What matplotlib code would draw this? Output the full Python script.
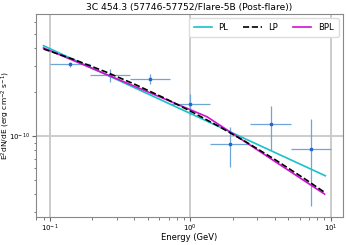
import matplotlib
matplotlib.use("Agg")
import matplotlib.pyplot as plt
import numpy as np

# Data points (flux in erg cm^-2 s^-1)
e_center = [0.139, 0.268, 0.518, 1.0, 1.93, 3.73, 7.20]
e_low = [0.100, 0.193, 0.373, 0.720, 1.39, 2.68, 5.18]
e_high = [0.193, 0.373, 0.720, 1.39, 2.68, 5.18, 10.0]
flux = [3.11e-10, 2.62e-10, 2.47e-10, 1.67e-10, 0.88e-10, 1.20e-10, 0.82e-10]
flux_err = [0.12e-10, 0.28e-10, 0.20e-10, 0.27e-10, 0.27e-10, 0.40e-10, 0.49e-10]

# Model curves
pl_e = [0.0899, 9.14]
pl_f = [4.155e-10, 5.35e-11]
lp_e = [0.09, 0.15, 0.25, 0.4, 0.65, 1.0, 1.6, 2.5, 4.0, 6.5, 9.0]
lp_f = [3.946e-10, 3.327e-10, 2.748e-10, 2.266e-10, 1.824e-10, 1.483e-10,
        1.163e-10, 9.10e-11, 6.91e-11, 5.11e-11, 4.13e-11]
bpl_e = [0.0899, 1.315, 9.03]
bpl_f = [4.01e-10, 1.355e-10, 4.01e-11]

fig = plt.figure(figsize=(3.46, 2.45), dpi=100)
ax = fig.add_axes([0.104, 0.114, 0.887, 0.829])

xerr = [np.array(e_center) - np.array(e_low), np.array(e_high) - np.array(e_center)]
ax.errorbar(e_center, flux, xerr=xerr, yerr=flux_err, fmt='s', ms=1.8,
            color='#2a62d0', ecolor='#6ea6d8', elinewidth=0.9, capsize=0, zorder=3)

ax.plot(pl_e, pl_f, color='#17c3c8', lw=1.2, label='PL', zorder=4)
ax.plot(lp_e, lp_f, color='black', lw=1.2, ls='--', label='LP', zorder=5)
ax.plot(bpl_e, bpl_f, color='#d010d0', lw=1.2, label='BPL', zorder=4)

ax.set_xscale('log')
ax.set_yscale('log')
ax.set_xlim(0.0795, 12.2)
ax.set_ylim(2.79e-11, 6.85e-10)

ax.grid(True, which='major', color='#c8c8c8', lw=1.3)
ax.set_axisbelow(True)
for s in ax.spines.values():
    s.set_color('#888888')
ax.tick_params(axis='both', which='both', labelsize=5.0, colors='#666666',
               labelcolor='black', pad=1.2)
ax.tick_params(which='major', length=3)
ax.tick_params(which='minor', length=1.8)

ax.set_title('3C 454.3 (57746-57752/Flare-5B (Post-flare))', fontsize=6.6, pad=3)
ax.set_xlabel('Energy (GeV)', fontsize=6)
ax.set_ylabel(r'E$^2$dN/dE (erg cm$^{-2}$ s$^{-1}$)', fontsize=5.4)
ax.xaxis.set_label_coords(0.5, -0.08)
ax.yaxis.set_label_coords(-0.077, 0.5)

ax.legend(loc='upper right', ncol=3, fontsize=6, frameon=True, handlelength=2.2,
          columnspacing=1.8, borderpad=0.6, framealpha=1, edgecolor='#dddddd')

fig.savefig('out.png', dpi=100)
